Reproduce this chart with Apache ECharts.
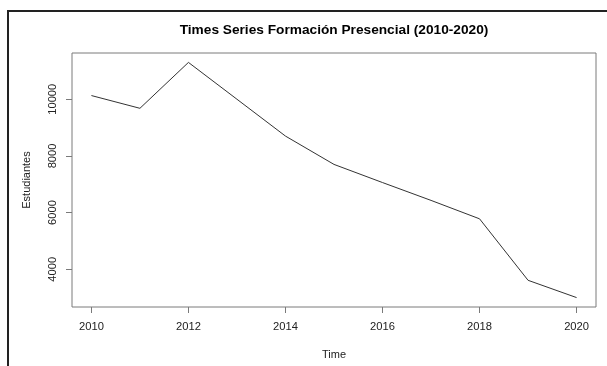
<!DOCTYPE html>
<html>
<head>
<meta charset="utf-8">
<script src="https://cdn.jsdelivr.net/npm/echarts@6/dist/echarts.min.js"></script>
<style>
  html, body { margin: 0; padding: 0; background: #fff; }
  #chart { width: 607px; height: 366px; }
</style>
</head>
<body>
<div id="chart"></div>
<script>
// Enrolment per year, in-person training
const years = [2010, 2011, 2012, 2013, 2014, 2015, 2016, 2017, 2018, 2019, 2020];
const students = [10130, 9680, 11300, 10000, 8700, 7700, 7060, 6430, 5780, 3610, 3000];
const xTicks = [2010, 2012, 2014, 2016, 2018, 2020];
const yTicks = [4000, 6000, 8000, 10000];

// R-style 4% padding around the data range
function padded(vals) {
  const lo = Math.min(...vals), hi = Math.max(...vals);
  const d = (hi - lo) * 0.04;
  return [lo - d, hi + d];
}
const [xMin, xMax] = padded(years);
const [yMin, yMax] = padded(students);

const font = 'Arial, "Liberation Sans", sans-serif';
const chart = echarts.init(document.getElementById('chart'), null, { renderer: 'canvas' });

chart.setOption({
  animation: false,
  backgroundColor: '#fff',
  title: {
    text: 'Times Series Formación Presencial (2010-2020)',
    left: 334,
    textAlign: 'center',
    top: 23,
    padding: 0,
    textStyle: { fontFamily: font, fontSize: 13.7, fontWeight: 'bold', color: '#000' }
  },
  graphic: [{
    type: 'polyline',
    shape: { points: [[8, 366], [8, 11], [607, 11]] },
    style: { stroke: '#222', lineWidth: 2, fill: null },
    silent: true
  }],
  grid: {
    left: 72, right: 11, top: 53, bottom: 59,
    show: true, borderColor: '#7a7a7a', borderWidth: 1, backgroundColor: 'transparent'
  },
  xAxis: {
    type: 'value',
    min: xMin, max: xMax,
    name: 'Time',
    nameLocation: 'middle',
    nameGap: 42,
    nameTextStyle: { fontFamily: font, fontSize: 11, color: '#222' },
    axisLine: { show: false },
    splitLine: { show: false },
    axisTick: { show: true, customValues: xTicks, length: 6, lineStyle: { color: '#7a7a7a' } },
    axisLabel: { customValues: xTicks, margin: 14, fontFamily: font, fontSize: 11.2, color: '#222',
      formatter: v => String(v) }
  },
  yAxis: {
    type: 'value',
    min: yMin, max: yMax,
    name: 'Estudiantes',
    nameLocation: 'middle',
    nameRotate: 90,
    nameGap: 40,
    nameTextStyle: { fontFamily: font, fontSize: 11, color: '#222' },
    axisLine: { show: false },
    splitLine: { show: false },
    axisTick: { show: true, customValues: yTicks, length: 6, lineStyle: { color: '#7a7a7a' } },
    axisLabel: { customValues: yTicks, rotate: 90, margin: 14, fontFamily: font, fontSize: 11.2, color: '#222',
      formatter: v => String(v) }
  },
  series: [{
    type: 'line',
    data: years.map((y, i) => [y, students[i]]),
    showSymbol: false,
    lineStyle: { color: '#333', width: 1 },
    silent: true
  }]
});
</script>
</body>
</html>
